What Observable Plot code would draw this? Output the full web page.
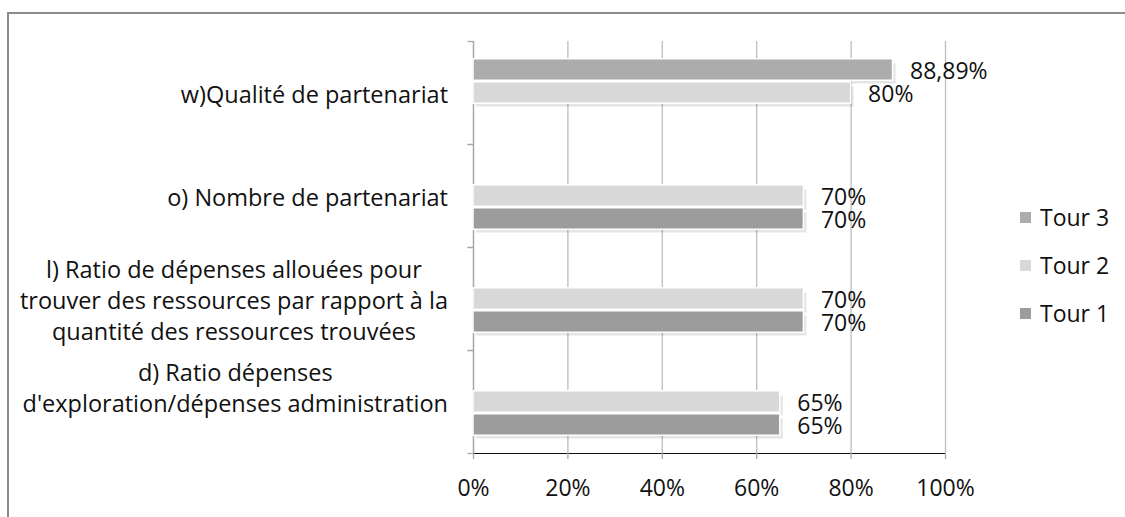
<!DOCTYPE html>
<html>
<head>
<meta charset="utf-8">
<script src="https://cdn.jsdelivr.net/npm/d3@7"></script>
<script src="https://cdn.jsdelivr.net/npm/@observablehq/plot@0.6"></script>
<style>
html, body { margin: 0; padding: 0; background: #fff; }
#wrap { position: relative; width: 1125px; height: 517px; overflow: hidden; font-family: "Open Sans", sans-serif; }
#border { position: absolute; left: 6.5px; top: 11.5px; right: -10px; bottom: -10px; border-top: 2px solid #8c8c8c; border-left: 2px solid #8c8c8c; }
#chart { position: absolute; left: 0; top: 0; }
#legend { position: absolute; left: 1020px; top: 193px; }
#chart g[aria-label^="x-axis"] line, #chart g[aria-label^="x-axis"] path { stroke: #a8a8a8; stroke-width: 1.3px; }
.lg-swatches { font-family: "Open Sans", sans-serif !important; font-size: 23px !important; color: #111; margin: 0 !important; }
.lg-swatch { height: 48px; padding: 0 !important; }
.lg-swatch > svg { margin-right: 9px !important; }
</style>
</head>
<body>
<div id="wrap">
  <div id="border"></div>
  <div id="chart"></div>
  <div id="legend"></div>
</div>
<script>
// ---- data ----
const categoryIds = ["w", "o", "l", "d"];
const categoryLabels = [
  "w)Qualité de partenariat",
  "o) Nombre de partenariat",
  "l) Ratio de dépenses allouées pour\ntrouver des ressources par rapport à la\nquantité des ressources trouvées",
  "d) Ratio dépenses\nd'exploration/dépenses administration\n"
];
const seriesNames = ["Tour 3", "Tour 2", "Tour 1"];
const tour3 = [88.89, null, null, null];
const tour2 = [80, 70, 70, 65];
const tour1 = [null, 70, 70, 65];
const xTicks = [0, 20, 40, 60, 80, 100];
const seriesColors = ["#acacac", "#d8d8d8", "#9c9c9c"];

// ---- table ----
const seriesValues = [tour3, tour2, tour1];
const rows = [];
categoryIds.forEach((cat, i) => {
  let first = true;
  seriesNames.forEach((s, j) => {
    const v = seriesValues[j][i];
    if (v != null) { rows.push({cat, series: s, value: v, first}); first = false; }
  });
});

const fmt = v => String(v).replace(".", ",") + "%";
const labelFont = 23.5;
const ctx = document.createElement("canvas").getContext("2d");
ctx.font = `${labelFont}px "Open Sans"`;
const blockWidth = t => Math.max(...t.split("\n").map(s => ctx.measureText(s).width));

const axisColor = "#a8a8a8";
const gridColor = "#bdbdbd";
const leftTick = {draw(context) { context.moveTo(0, 0); context.lineTo(-6, 0); }};

const labelMarks = categoryIds.map((c, i) => Plot.text(rows, {
  filter: d => d.first && d.cat === c,
  frameAnchor: "left",
  text: () => categoryLabels[i],
  textAnchor: "middle",
  lineAnchor: "middle",
  lineHeight: 1.31,
  fontSize: labelFont,
  fill: "#111",
  dx: -(25.5 + blockWidth(categoryLabels[i]) / 2)
}));

const chart = Plot.plot({
  width: 1125,
  height: 517,
  marginTop: 40,
  marginBottom: 64,
  marginLeft: 473,
  marginRight: 180,
  style: {fontFamily: '"Open Sans", sans-serif', fontSize: "23px", color: "#111", background: "transparent", overflow: "visible"},
  facet: {data: rows, y: "cat"},
  fy: {domain: categoryIds, padding: 0, axis: null, label: null},
  y: {domain: seriesNames, paddingInner: 0, paddingOuter: 0.697, axis: null},
  x: {domain: [0, 100], ticks: xTicks, tickFormat: d => d + "%", tickSize: 6, tickPadding: 20, line: true, label: null},
  color: {domain: seriesNames, range: seriesColors},
  marks: [
    Plot.ruleX(xTicks, {stroke: gridColor, strokeWidth: 1.3}),
    Plot.ruleX([0], {stroke: axisColor, strokeWidth: 1.3}),
    Plot.dot([0], {frameAnchor: "top-left", symbol: leftTick, stroke: axisColor, fill: "none", strokeWidth: 1.3}),
    Plot.dot([0], {frameAnchor: "bottom-left", symbol: leftTick, stroke: axisColor, fill: "none", strokeWidth: 1.3}),
    Plot.barX(rows, {x: "value", y: "series", fill: "#000", fillOpacity: 0.1, dx: 3, dy: 4, insetTop: 1.5, insetBottom: 1.5}),
    Plot.barX(rows, {x: "value", y: "series", fill: "series", stroke: "#fff", strokeWidth: 1.5, insetTop: 0.75, insetBottom: 0.75}),
    Plot.text(rows, {x: "value", y: "series", text: d => fmt(d.value), textAnchor: "start", dx: 17, dy: 2, fontSize: 23, fill: "#111"}),
    ...labelMarks
  ]
});
document.getElementById("chart").appendChild(chart);

const legend = Plot.legend({
  color: {type: "ordinal", domain: seriesNames, range: seriesColors},
  legend: "swatches",
  columns: 1,
  swatchSize: 11,
  className: "lg"
});
document.getElementById("legend").appendChild(legend);
</script>
</body>
</html>
